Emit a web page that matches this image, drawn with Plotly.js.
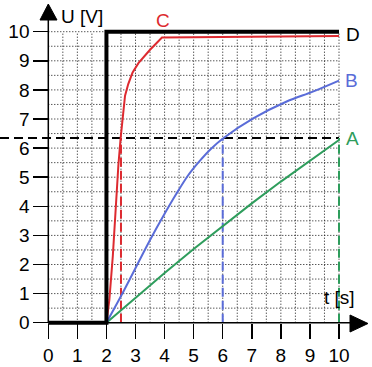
<!DOCTYPE html>
<html><head><meta charset="utf-8">
<script src="https://cdn.plot.ly/plotly-3.0.1.min.js"></script>
<style>html,body{margin:0;padding:0;background:#fff;}#chart{width:372px;height:367px;}</style>
</head><body><div id="chart"></div>
<script>
// ---- data ----
var tickVals = [0,1,2,3,4,5,6,7,8,9,10];
var tickText = ["0","1","2","3","4","5","6","7","8","9","10"];
var tD = [0, 2, 2, 10];
var uD = [0, 0, 10, 10];
var tC = [2, 2.1, 2.22, 2.33, 2.41, 2.49, 2.57, 2.64, 2.75, 2.9, 3.1, 3.5, 3.91, 10];
var uC = [0, 0.78, 2.3, 4.3, 5.4, 6.36, 7.2, 7.8, 8.2, 8.6, 8.92, 9.38, 9.8, 9.85];
var tB = [2, 2.52, 3.5, 4.0, 4.4, 4.8, 5.21, 5.6, 6.02, 7.05, 8.2, 9.1, 10];
var uB = [0, 0.95, 2.84, 3.74, 4.42, 5.05, 5.56, 5.98, 6.34, 7.02, 7.6, 7.94, 8.32];
var tA = [2, 3, 4, 5, 6, 7, 8, 9, 10];
var uA = [0, 0.87, 1.71, 2.53, 3.33, 4.1, 4.85, 5.58, 6.28];
var level63 = 6.35;
var tauC = 2.5, tauB = 6, tauA = 10;

// ---- geometry (pixels -> data) ----
var W = 372, H = 367;
var x0px = 48.3, xs = 29.07, y0px = 322.7, ys = 29.1;
function tx(px){ return (px - x0px)/xs; }
function uy(py){ return (y0px - py)/ys; }

var red = "#dd2a30", blue = "#5a6cd8", green = "#2e9d5c";
var font = "Liberation Sans, Arial, sans-serif";

var traces = [
  {x:[tx(0), 10], y:[level63, level63], mode:"lines", line:{color:"#000", width:2, dash:"9px,5px"}, hoverinfo:"skip"},
  {x:[tauC,tauC], y:[0,level63], mode:"lines", line:{color:red, width:2, dash:"9px,4px"}, hoverinfo:"skip"},
  {x:[tauB,tauB], y:[0,level63], mode:"lines", line:{color:blue, width:2, dash:"9px,4px"}, hoverinfo:"skip"},
  {x:[tauA,tauA], y:[0,level63], mode:"lines", line:{color:green, width:2, dash:"9px,4px"}, hoverinfo:"skip"},
  {x:tA, y:uA, mode:"lines", line:{color:green, width:2}},
  {x:tB, y:uB, mode:"lines", line:{color:blue, width:2, shape:"spline", smoothing:0.9}},
  {x:tC, y:uC, mode:"lines", line:{color:red, width:2}},
  {x:tD, y:uD, mode:"lines", line:{color:"#000", width:4}}
];

var shapes = [];
for (var i=1;i<=20;i++){
  var v=i*0.5;
  shapes.push({type:"line", xref:"x", yref:"y", x0:v, x1:v, y0:0, y1:10, layer:"below", line:{color:"#111", width:1, dash:"1px,2px"}});
  shapes.push({type:"line", xref:"x", yref:"y", x0:0, x1:10, y0:v, y1:v, layer:"below", line:{color:"#111", width:1, dash:"1px,2px"}});
}
// axis lines
shapes.push({type:"line", xref:"x", yref:"y", x0:0, x1:tx(352), y0:0, y1:0, line:{color:"#000", width:1.5}});
shapes.push({type:"line", xref:"x", yref:"y", x0:0, x1:0, y0:0, y1:uy(18), line:{color:"#000", width:1.5}});
// arrow heads
shapes.push({type:"path", xref:"x", yref:"y", fillcolor:"#000", line:{color:"#000", width:1},
  path:"M"+tx(350)+","+uy(315)+" L"+tx(368)+","+uy(323.5)+" L"+tx(350)+","+uy(332)+" Z"});
shapes.push({type:"path", xref:"x", yref:"y", fillcolor:"#000", line:{color:"#000", width:1},
  path:"M"+tx(40)+","+uy(20)+" L"+tx(48.3)+","+uy(4)+" L"+tx(57)+","+uy(20)+" Z"});

function ann(text, px, py, color){
  return {text:text, x:tx(px), y:uy(py), xref:"x", yref:"y", showarrow:false,
    font:{family:font, size:19, color:color}, xanchor:"center", yanchor:"middle"};
}
var annotations = [
  ann("U [V]", 82, 16, "#000"),
  ann("t [s]", 339, 297, "#000"),
  ann("A", 352, 138, green),
  ann("B", 351, 80, blue),
  ann("C", 163, 20, red),
  ann("D", 353, 34, "#000")
];

var layout = {
  width:W, height:H, margin:{l:0,r:0,t:0,b:0}, showlegend:false,
  paper_bgcolor:"#fff", plot_bgcolor:"#fff",
  xaxis:{range:[tx(0), tx(W)], anchor:"free", position:(H-y0px)/H, showgrid:false, zeroline:false, showline:false,
    tickmode:"array", tickvals:tickVals, ticktext:tickText, ticks:"outside", ticklen:15, tickwidth:1.5, tickcolor:"#000",
    tickfont:{family:font, size:19, color:"#000"}, fixedrange:true, automargin:false},
  yaxis:{range:[uy(H), uy(0)], anchor:"free", position:x0px/W, showgrid:false, zeroline:false, showline:false,
    tickmode:"array", tickvals:tickVals, ticktext:tickText, ticks:"outside", ticklen:15, tickwidth:1.5, tickcolor:"#000",
    tickfont:{family:font, size:19, color:"#000"}, fixedrange:true, automargin:false},
  shapes:shapes, annotations:annotations
};
Plotly.newPlot("chart", traces, layout, {staticPlot:true, displayModeBar:false});
</script></body></html>
